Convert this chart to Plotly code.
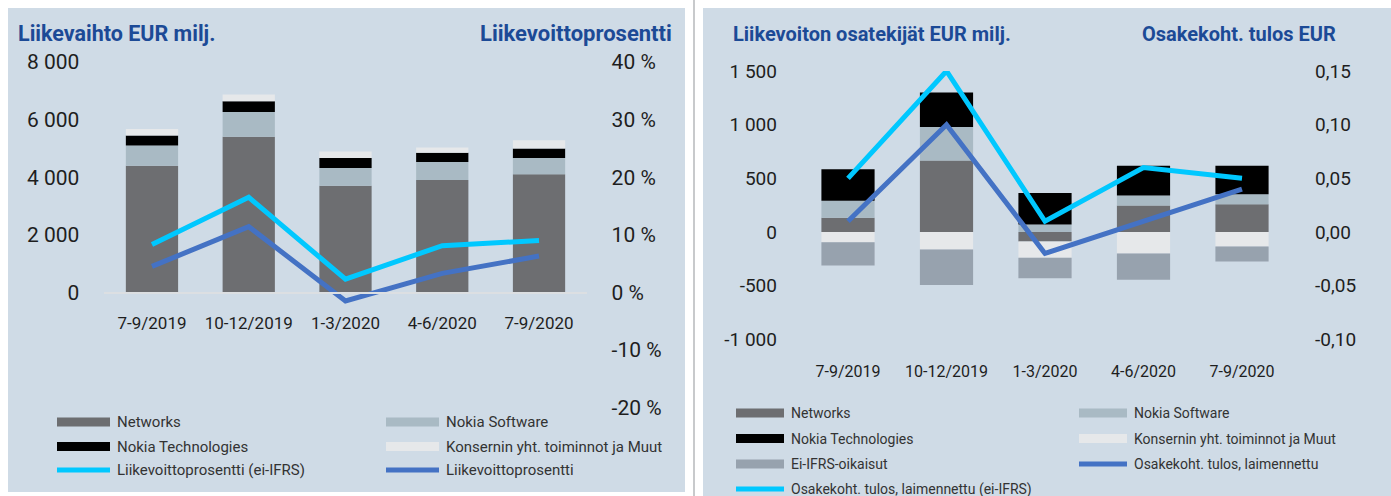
import plotly.graph_objects as go

W, H = 1391, 496

def fx(px):
    return px / W

def fy(py):
    return 1 - py / H

# ---------------- data ----------------
categories = ["7-9/2019", "10-12/2019", "1-3/2020", "4-6/2020", "7-9/2020"]

# Left chart: net sales (EUR million) and operating margin (%)
networks_sales = [4400, 5400, 3700, 3900, 4100]
software_sales = [700, 860, 620, 630, 570]
technologies_sales = [345, 380, 345, 320, 325]
group_other_sales = [230, 230, 230, 180, 290]
margin_non_ifrs = [8.3, 16.5, 2.3, 8.1, 9.0]
margin_reported = [4.5, 11.4, -1.5, 3.3, 6.3]

left_y_ticks = [0, 2000, 4000, 6000, 8000]
left_y_text = ["0", "2 000", "4 000", "6 000", "8 000"]
left_y2_ticks = [-20, -10, 0, 10, 20, 30, 40]
left_y2_text = ["-20 %", "-10 %", "0 %", "10 %", "20 %", "30 %", "40 %"]

# Right chart: operating profit components (EUR million) and EPS (EUR)
networks_op = [133, 667, -88, 246, 258]
software_op = [158, 311, 70, 93, 93]
technologies_op = [294, 321, 294, 279, 267]
group_other_op = [-95, -163, -152, -200, -135]
non_ifrs_adj = [-217, -331, -192, -245, -139]
eps_diluted = [0.01, 0.10, -0.02, 0.01, 0.04]
eps_diluted_non_ifrs = [0.05, 0.15, 0.01, 0.06, 0.05]

right_y_ticks = [-1000, -500, 0, 500, 1000, 1500]
right_y_text = ["-1 000", "-500", "0", "500", "1 000", "1 500"]
right_y2_ticks = [-0.10, -0.05, 0.0, 0.05, 0.10, 0.15]
right_y2_text = ["-0,10", "-0,05", "0,00", "0,05", "0,10", "0,15"]

# ---------------- styles ----------------
C_NET = "#6d6e71"
C_SW = "#a9bac4"
C_TECH = "#000000"
C_GRP = "#e6e8ea"
C_ADJ = "#97a2ae"
C_CYAN = "#00c8ff"
C_BLUE = "#4472c4"
C_TITLE = "#1c4a96"
C_PANEL = "#cfdbe6"
FONT = "Roboto"
TXT = "#1e1e1e"

fig = go.Figure()

# Left chart bars
for name, vals, col in [("Networks", networks_sales, C_NET),
                        ("Nokia Software", software_sales, C_SW),
                        ("Nokia Technologies", technologies_sales, C_TECH),
                        ("Konsernin yht. toiminnot ja Muut", group_other_sales, C_GRP)]:
    fig.add_trace(go.Bar(x=categories, y=vals, name=name, marker_color=col,
                         marker_line_width=0, xaxis="x", yaxis="y", showlegend=False))
fig.add_trace(go.Scatter(x=categories, y=margin_non_ifrs, mode="lines",
                         line=dict(color=C_CYAN, width=5), xaxis="x", yaxis="y2",
                         name="Liikevoittoprosentti (ei-IFRS)", showlegend=False))
fig.add_trace(go.Scatter(x=categories, y=margin_reported, mode="lines",
                         line=dict(color=C_BLUE, width=5), xaxis="x", yaxis="y2",
                         name="Liikevoittoprosentti", showlegend=False))

# Right chart bars
for name, vals, col in [("Networks", networks_op, C_NET),
                        ("Nokia Software", software_op, C_SW),
                        ("Nokia Technologies", technologies_op, C_TECH),
                        ("Konsernin yht. toiminnot ja Muut", group_other_op, C_GRP),
                        ("Ei-IFRS-oikaisut", non_ifrs_adj, C_ADJ)]:
    fig.add_trace(go.Bar(x=categories, y=vals, name=name, marker_color=col,
                         marker_line_width=0, xaxis="x2", yaxis="y3", showlegend=False))
fig.add_trace(go.Scatter(x=categories, y=eps_diluted, mode="lines",
                         line=dict(color=C_BLUE, width=5), xaxis="x2", yaxis="y4",
                         name="Osakekoht. tulos, laimennettu", showlegend=False))
fig.add_trace(go.Scatter(x=categories, y=eps_diluted_non_ifrs, mode="lines",
                         line=dict(color=C_CYAN, width=5), xaxis="x2", yaxis="y4",
                         name="Osakekoht. tulos, laimennettu (ei-IFRS)", showlegend=False))

hidden_tick = dict(ticks="outside", tickcolor="rgba(0,0,0,0)", showgrid=False,
                   zeroline=False, automargin=False)

fig.update_layout(
    template="none",
    width=W, height=H, autosize=False,
    margin=dict(l=0, r=0, t=0, b=0, pad=0),
    paper_bgcolor="white", plot_bgcolor="rgba(0,0,0,0)",
    barmode="relative", bargap=0.46,
    font=dict(family=FONT, color=TXT),
    showlegend=False,
    xaxis=dict(domain=[fx(103.6), fx(587.4)], anchor="free", position=fy(292.5),
               showline=True, linecolor="#dcdfe2", linewidth=2,
               tickfont=dict(size=17), ticklen=15, **hidden_tick),
    yaxis=dict(domain=[fy(407.5), fy(62)], range=[-4000, 8000], anchor="x",
               tickvals=left_y_ticks, ticktext=left_y_text, tickfont=dict(size=21),
               ticklen=19, showline=False, **hidden_tick),
    yaxis2=dict(overlaying="y", side="right", anchor="x", range=[-20, 40],
                tickvals=left_y2_ticks, ticktext=left_y2_text, tickfont=dict(size=21),
                ticklen=19, showline=False, **hidden_tick),
    xaxis2=dict(domain=[fx(798.75), fx(1291.25)], anchor="y3",
                tickfont=dict(size=16), ticklen=17, showline=False, **hidden_tick),
    yaxis3=dict(domain=[fy(339.3), fy(71)], range=[-1000, 1500], anchor="x2",
                tickvals=right_y_ticks, ticktext=right_y_text, tickfont=dict(size=19),
                ticklen=17, showline=False, **hidden_tick),
    yaxis4=dict(overlaying="y3", side="right", anchor="x2", range=[-0.10, 0.15],
                tickvals=right_y2_ticks, ticktext=right_y2_text, tickfont=dict(size=19),
                ticklen=19, showline=False, **hidden_tick),
)

shapes = [
    dict(type="rect", xref="paper", yref="paper", x0=fx(8), x1=fx(685), y0=fy(492), y1=fy(8),
         fillcolor=C_PANEL, line_width=0, layer="below"),
    dict(type="rect", xref="paper", yref="paper", x0=fx(703), x1=fx(1391), y0=fy(496), y1=fy(8),
         fillcolor=C_PANEL, line_width=0, layer="below"),
    dict(type="line", xref="paper", yref="paper", x0=fx(694), x1=fx(694), y0=fy(496), y1=fy(0),
         line=dict(color="#c8cacc", width=2), layer="below"),
]
annotations = []

def title(text, x, y, anchor, size):
    annotations.append(dict(text=text, xref="paper", yref="paper", x=fx(x), y=fy(y),
                            xanchor=anchor, yanchor="middle", showarrow=False,
                            font=dict(size=size, color=C_TITLE, family=FONT, weight="bold")))

title("Liikevaihto EUR milj.", 16, 33, "left", 21.5)
title("Liikevoittoprosentti", 674, 33, "right", 22)
title("Liikevoiton osatekijät EUR milj.", 731, 34, "left", 20)
title("Osakekoht. tulos EUR", 1338, 34, "right", 20)

def legend_item(label, color, kind, x0, x1, yc, tx, size):
    if kind == "bar":
        shapes.append(dict(type="rect", xref="paper", yref="paper", x0=fx(x0), x1=fx(x1),
                           y0=fy(yc + 4.5), y1=fy(yc - 4.5), fillcolor=color, line_width=0))
    else:
        shapes.append(dict(type="line", xref="paper", yref="paper", x0=fx(x0), x1=fx(x1),
                           y0=fy(yc), y1=fy(yc), line=dict(color=color, width=5)))
    annotations.append(dict(text=label, xref="paper", yref="paper", x=fx(tx), y=fy(yc),
                            xanchor="left", yanchor="middle", showarrow=False,
                            font=dict(size=size, color="#333333", family=FONT)))

# Left legend
L1, L2 = (57, 110, 115), (386, 439, 444)
legend_item("Networks", C_NET, "bar", *L1[:2], 422, L1[2], 15)
legend_item("Nokia Software", C_SW, "bar", *L2[:2], 422, L2[2], 15)
legend_item("Nokia Technologies", C_TECH, "bar", *L1[:2], 446.5, L1[2], 15)
legend_item("Konsernin yht. toiminnot ja Muut", C_GRP, "bar", *L2[:2], 446.5, L2[2], 15)
legend_item("Liikevoittoprosentti (ei-IFRS)", C_CYAN, "line", *L1[:2], 470, L1[2], 15)
legend_item("Liikevoittoprosentti", C_BLUE, "line", *L2[:2], 470, L2[2], 15)

# Right legend
R1, R2 = (736, 784, 789), (1079, 1127, 1132)
legend_item("Networks", C_NET, "bar", *R1[:2], 413, R1[2], 14)
legend_item("Nokia Software", C_SW, "bar", *R2[:2], 413, R2[2], 14)
legend_item("Nokia Technologies", C_TECH, "bar", *R1[:2], 438.5, R1[2], 14)
legend_item("Konsernin yht. toiminnot ja Muut", C_GRP, "bar", *R2[:2], 438.5, R2[2], 14)
legend_item("Ei-IFRS-oikaisut", C_ADJ, "bar", *R1[:2], 464, R1[2], 14)
legend_item("Osakekoht. tulos, laimennettu", C_BLUE, "line", *R2[:2], 464, R2[2], 14)
legend_item("Osakekoht. tulos, laimennettu (ei-IFRS)", C_CYAN, "line", *R1[:2], 489, R1[2], 14)

fig.update_layout(shapes=shapes, annotations=annotations)

fig.write_html("out.html", config={"displayModeBar": False},
               post_script="document.body.style.margin='0';")
